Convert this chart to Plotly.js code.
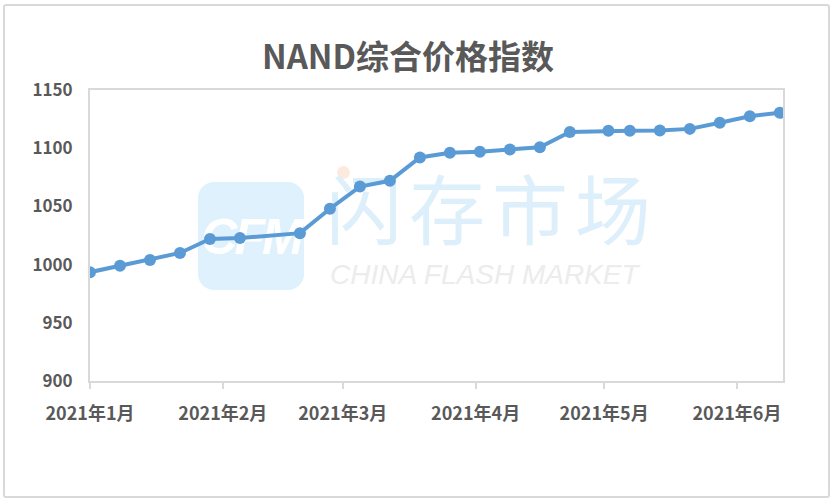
<!DOCTYPE html>
<html>
<head>
<meta charset="utf-8">
<script src="https://cdn.plot.ly/plotly-3.0.1.min.js"></script>
<style>
  html, body { margin: 0; padding: 0; background: #ffffff; }
  #frame { position: absolute; left: 3px; top: 4px; width: 827px; height: 494px; box-sizing: border-box; border: 2px solid #d9d9d9; border-radius: 3px; }
  #wm { position: absolute; left: 0; top: 0; width: 837px; height: 503px; }
  #logo { position: absolute; left: 198px; top: 182px; width: 106px; height: 108px; background: #dff1fc; border-radius: 16px; }
  #logotxt { position: absolute; left: 196px; top: 208px; width: 110px; text-align: center; font-family: "Liberation Sans", Arial, sans-serif; font-style: italic; font-weight: bold; font-size: 50px; color: #ffffff; letter-spacing: -3px; }
  #dot { position: absolute; left: 337px; top: 166px; width: 13px; height: 13px; border-radius: 7px; background: #fdeadf; }
  #cn { position: absolute; left: 326px; top: 168px; font-family: "Noto Sans CJK SC", sans-serif; font-weight: 400; font-size: 76px; color: #ddeffa; letter-spacing: 7px; line-height: 1; white-space: nowrap; }
  #en { position: absolute; left: 330px; top: 261px; font-family: "Liberation Sans", Arial, sans-serif; font-style: italic; font-size: 28px; color: #ececec; letter-spacing: 0px; line-height: 1; white-space: nowrap; }
  #chart { position: absolute; left: 0; top: 0; width: 837px; height: 503px; }
</style>
</head>
<body>
<div id="frame"></div>
<div id="wm">
  <div id="logo"></div>
  <div id="logotxt">CFM</div>
  <div id="dot"></div>
  <div id="cn">闪存市场</div>
  <div id="en">CHINA FLASH MARKET</div>
</div>
<div id="chart"></div>
<script>
const dates = ["2021-01-01","2021-01-08","2021-01-15","2021-01-22","2021-01-29","2021-02-05",
  "2021-02-19","2021-02-26","2021-03-05","2021-03-12","2021-03-19","2021-03-26",
  "2021-04-02","2021-04-09","2021-04-16","2021-04-23","2021-05-02","2021-05-07",
  "2021-05-14","2021-05-21","2021-05-28","2021-06-04","2021-06-11"];
const values = [993.5, 999, 1004, 1010, 1022, 1022.8,
  1027, 1048, 1067, 1072, 1092, 1096,
  1097, 1098.8, 1100.8, 1114, 1115, 1115,
  1115.2, 1116.6, 1121.8, 1127.5, 1130.4];
const tickDates = ["2021-01-01","2021-02-01","2021-03-01","2021-04-01","2021-05-01","2021-06-01"];
const tickLabels = ["2021年1月","2021年2月","2021年3月","2021年4月","2021年5月","2021年6月"];
const yTicks = [900, 950, 1000, 1050, 1100, 1150];

const font = "'Noto Sans CJK SC', 'Noto Sans', sans-serif";
const textColor = "#595959";

Plotly.newPlot("chart", [{
  x: dates,
  y: values,
  type: "scatter",
  mode: "lines+markers",
  line: { color: "#5b9bd5", width: 4 },
  marker: { color: "#5b9bd5", size: 12 },
  hoverinfo: "skip"
}], {
  width: 837,
  height: 503,
  margin: { l: 90, r: 54, t: 90, b: 122 },
  paper_bgcolor: "rgba(0,0,0,0)",
  plot_bgcolor: "rgba(0,0,0,0)",
  showlegend: false,
  title: {
    text: "<b>NAND综合价格指数</b>",
    font: { family: font, size: 33, color: textColor },
    x: 0.4875, xanchor: "center",
    y: 0.885, yanchor: "middle"
  },
  xaxis: {
    type: "date",
    range: ["2021-01-01", "2021-06-11 18:00"],
    tickvals: tickDates,
    ticktext: tickLabels,
    ticks: "outside",
    ticklen: 6,
    tickwidth: 2,
    tickcolor: "#d9d9d9",
    showline: true,
    linecolor: "#d9d9d9",
    linewidth: 2,
    mirror: true,
    showgrid: false,
    zeroline: false,
    tickfont: { family: font, size: 18, color: textColor, weight: "bold" },
    ticklabelstandoff: 9
  },
  yaxis: {
    range: [900, 1150],
    tickvals: yTicks,
    ticktext: yTicks.map(String),
    ticks: "",
    showline: true,
    linecolor: "#d9d9d9",
    linewidth: 2,
    mirror: true,
    showgrid: false,
    zeroline: false,
    tickfont: { family: font, size: 17, color: textColor, weight: "bold" },
    ticklabelstandoff: 12
  }
}, { displayModeBar: false, staticPlot: true });
</script>
</body>
</html>
